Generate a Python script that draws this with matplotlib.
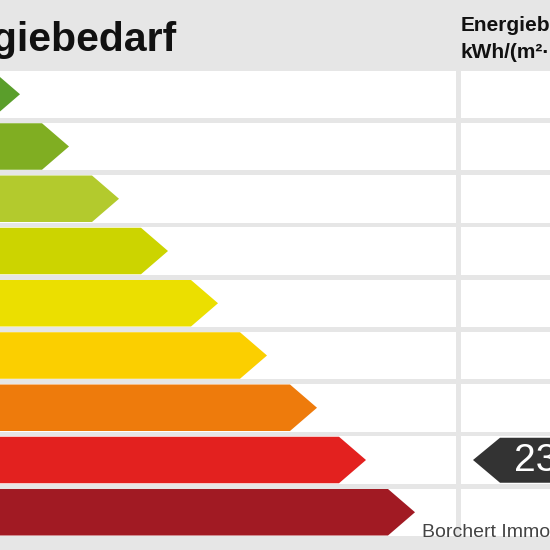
import matplotlib
matplotlib.use("Agg")
import matplotlib.pyplot as plt
from matplotlib.patches import Polygon, Rectangle

# Data
classes = ["A+", "A", "B", "C", "D", "E", "F", "G", "H"]
bar_tips = [20, 69, 119, 168, 218, 267, 317, 366, 415]
bar_colors = ["#5a9e2b", "#80ae22", "#b3ca2d", "#ccd400", "#ebdf00",
              "#fbcf00", "#ee7b0c", "#e3211f", "#a11a23"]
value_label = "23"
value_class = "G"
title_left = "Energiebedarf"
title_right = ["Energiebedarf", "kWh/(m²·a)"]
footer = "Borchert Immobilien"

BG = "#e6e6e6"
fig = plt.figure(figsize=(5.5, 5.5), dpi=100)
fig.patch.set_facecolor(BG)
ax = fig.add_axes([0, 0, 1, 1])
ax.set_xlim(0, 550)
ax.set_ylim(550, 0)
ax.axis("off")
ax.set_facecolor(BG)

row_top0 = 70.5
pitch = 52.25
row_h = 47.5
tip_len = 27

for i, (cls, tip, col) in enumerate(zip(classes, bar_tips, bar_colors)):
    top = row_top0 + i * pitch
    bot = top + row_h
    mid = (top + bot) / 2
    ax.add_patch(Rectangle((-10, top), 466, row_h, facecolor="white", edgecolor="none"))
    ax.add_patch(Rectangle((461, top), 100, row_h, facecolor="white", edgecolor="none"))
    ax.add_patch(Polygon([(-60, top + 0.5), (tip - tip_len, top + 0.5), (tip, mid),
                          (tip - tip_len, bot - 0.5), (-60, bot - 0.5)],
                         closed=True, facecolor=col, edgecolor="none"))
    if cls == value_class:
        ax.add_patch(Polygon([(600, top + 1.5), (500, top + 1.5), (473, mid),
                              (500, bot - 1), (600, bot - 1)],
                             closed=True, facecolor="#333333", edgecolor="none"))
        ax.text(514, mid + 1, value_label, color="white", fontsize=28,
                family="Liberation Sans", ha="left", va="center")

ax.text(176, 51, title_left, fontsize=29.5, fontweight="bold", family="Liberation Sans",
        ha="right", va="baseline", color="#111111")
ax.text(461, 31, title_right[0], fontsize=15, fontweight="bold", family="Liberation Sans",
        ha="left", va="baseline", color="#111111")
ax.text(461, 57.5, title_right[1], fontsize=15, fontweight="bold", family="Liberation Sans",
        ha="left", va="baseline", color="#111111")
ax.text(422, 537, footer, fontsize=14, family="Liberation Sans",
        ha="left", va="baseline", color="#444444")

fig.savefig("out.png", dpi=100, facecolor=BG)
